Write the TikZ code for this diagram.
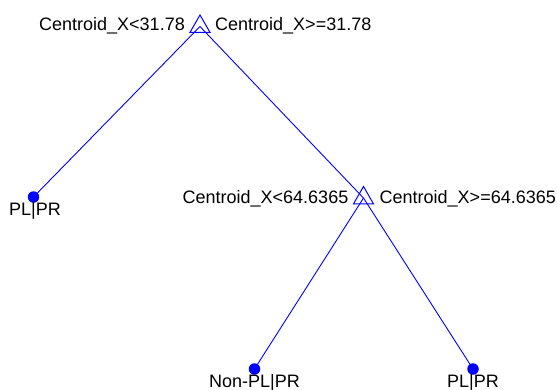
\documentclass[tikz,border=0pt]{standalone}
\usepackage{fontspec}
\setmainfont{Liberation Sans}
\usetikzlibrary{shapes.geometric}
\begin{document}
\begin{tikzpicture}[x=1pt,y=-1pt,
  split/.style={regular polygon, regular polygon sides=3, draw=blue, line width=1pt, minimum size=23pt, inner sep=0pt},
  leaf/.style={circle, fill=blue, minimum size=11.5pt, inner sep=0pt},
  edge/.style={blue, line width=0.9pt},
  lbl/.style={font=\fontsize{18pt}{20pt}\selectfont, inner sep=0pt, text=black}]
\useasboundingbox (0,0) rectangle (557,389);
\coordinate (r) at (200,26.5);
\coordinate (s) at (363.5,198);
\coordinate (l1) at (33.5,197);
\coordinate (l2) at (254.5,369);
\coordinate (l3) at (473,369);
\draw[edge] (r) -- (l1);
\draw[edge] (r) -- (s);
\draw[edge] (s) -- (l2);
\draw[edge] (s) -- (l3);
\node[split] (rn) at (r) {};
\node[split] (sn) at (s) {};
\node[leaf] (n1) at (l1) {};
\node[leaf] (n2) at (l2) {};
\node[leaf] (n3) at (l3) {};
\node[lbl, anchor=base east] (ra) at ([xshift=-15pt, yshift=-4pt]r) {Centroid\_X<31.78};
\node[lbl, anchor=base west] (rb) at ([xshift=15pt, yshift=-4pt]r) {Centroid\_X>=31.78};
\node[lbl, anchor=base east] (sa) at ([xshift=-15pt, yshift=-5.5pt]s) {Centroid\_X<64.6365};
\node[lbl, anchor=base west] (sb) at ([xshift=16pt, yshift=-5.5pt]s) {Centroid\_X>=64.6365};
\node[lbl, anchor=base] (t1) at ([xshift=1.5pt, yshift=-18pt]l1) {PL|PR};
\node[lbl, anchor=base] (t2) at ([yshift=-18pt]l2) {Non-PL|PR};
\node[lbl, anchor=base] (t3) at ([yshift=-18pt]l3) {PL|PR};
\end{tikzpicture}
\end{document}
